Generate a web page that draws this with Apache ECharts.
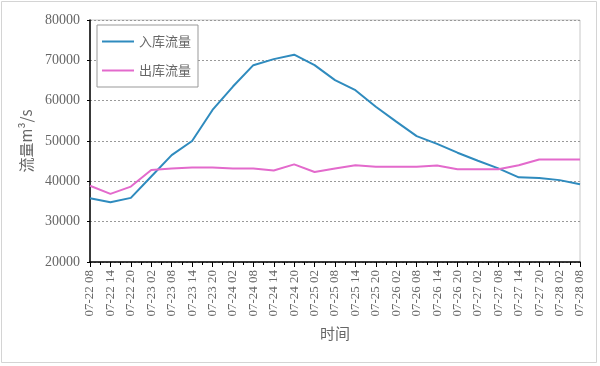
<!DOCTYPE html>
<html><head><meta charset="utf-8">
<script src="https://cdn.jsdelivr.net/npm/echarts@6/dist/echarts.min.js"></script>
<style>html,body{margin:0;padding:0;background:#fff}#c{width:600px;height:366px}</style>
</head><body><div id="c"></div>
<script>
var categories = ['07-22 08','07-22 14','07-22 20','07-23 02','07-23 08','07-23 14','07-23 20','07-24 02','07-24 08','07-24 14','07-24 20','07-25 02','07-25 08','07-25 14','07-25 20','07-26 02','07-26 08','07-26 14','07-26 20','07-27 02','07-27 08','07-27 14','07-27 20','07-28 02','07-28 08'];
var inflow = [35800,34800,35900,41200,46500,50000,57700,63500,68800,70300,71400,68800,65100,62600,58500,54800,51200,49300,47100,45100,43200,41000,40800,40300,39300];
var outflow = [38900,36900,38700,42800,43200,43400,43400,43200,43200,42700,44200,42300,43200,44000,43600,43600,43600,43900,43000,43000,43000,44000,45400,45400,45400];
var yTicks = [20000,30000,40000,50000,60000,70000,80000];
var seriesNames = ['入库流量','出库流量'];

var minorCats = [];
for (var i = 0; i < categories.length * 2 - 1; i++) minorCats.push(String(i));

var chart = echarts.init(document.getElementById('c'), null, {renderer:'canvas'});
chart.setOption({
  backgroundColor:'#fff',
  animation:false,
  graphic:[{type:'rect',shape:{x:1.5,y:1.5,width:595,height:361},style:{fill:'none',stroke:'#d4d4d4',lineWidth:1}}],
  grid:{left:90,top:20,width:490,height:242,show:true,borderColor:'#c8c8c8',borderWidth:1,backgroundColor:'transparent'},
  legend:{
    orient:'vertical',left:97,top:25,
    data:seriesNames,
    backgroundColor:'#fff',
    borderColor:'#999',borderWidth:1,
    padding:[10,7,10,5],
    itemGap:16,itemWidth:32,itemHeight:14,
    textStyle:{fontSize:13,color:'#666',fontFamily:'Noto Sans CJK SC'},
    icon:'path://M0,6.5H32V8.5H0Z'
  },
  xAxis:[{
    type:'category',data:categories,boundaryGap:false,
    axisLine:{lineStyle:{color:'#000',width:1.5}},
    axisTick:{show:true,length:5,inside:false,alignWithLabel:true,lineStyle:{color:'#000'}},
    axisLabel:{rotate:90,interval:0,fontSize:13,color:'#666',fontFamily:'Liberation Serif',margin:8},
    name:'时间',nameLocation:'middle',nameGap:64,
    nameTextStyle:{fontSize:15,color:'#666',fontFamily:'Noto Sans CJK SC'}
  },{
    type:'category',data:minorCats,boundaryGap:false,position:'bottom',
    axisLine:{show:false},
    axisTick:{show:true,length:3,interval:0,lineStyle:{color:'#000'}},
    axisLabel:{show:false}
  }],
  yAxis:{
    type:'value',min:20000,max:80000,interval:10000,
    name:'流量m³/s',nameLocation:'middle',nameGap:50,nameRotate:90,
    nameTextStyle:{fontSize:15,color:'#666',fontFamily:'Noto Sans CJK SC'},
    axisLine:{show:true,lineStyle:{color:'#000',width:1.5}},
    axisTick:{show:true,length:3,lineStyle:{color:'#000'}},
    axisLabel:{fontSize:14,color:'#666',fontFamily:'Liberation Serif',margin:10,
      formatter:function(v){return yTicks.indexOf(v)>=0?String(v):'';}},
    splitLine:{show:true,lineStyle:{color:'#999',type:[2,2],width:1}}
  },
  series:[
    {name:seriesNames[0],type:'line',data:inflow,showSymbol:false,symbol:'none',lineStyle:{color:'#2F8BBE',width:2},itemStyle:{color:'#2F8BBE'}},
    {name:seriesNames[1],type:'line',data:outflow,showSymbol:false,symbol:'none',lineStyle:{color:'#E36ACC',width:2},itemStyle:{color:'#E36ACC'}}
  ]
});
</script></body></html>
